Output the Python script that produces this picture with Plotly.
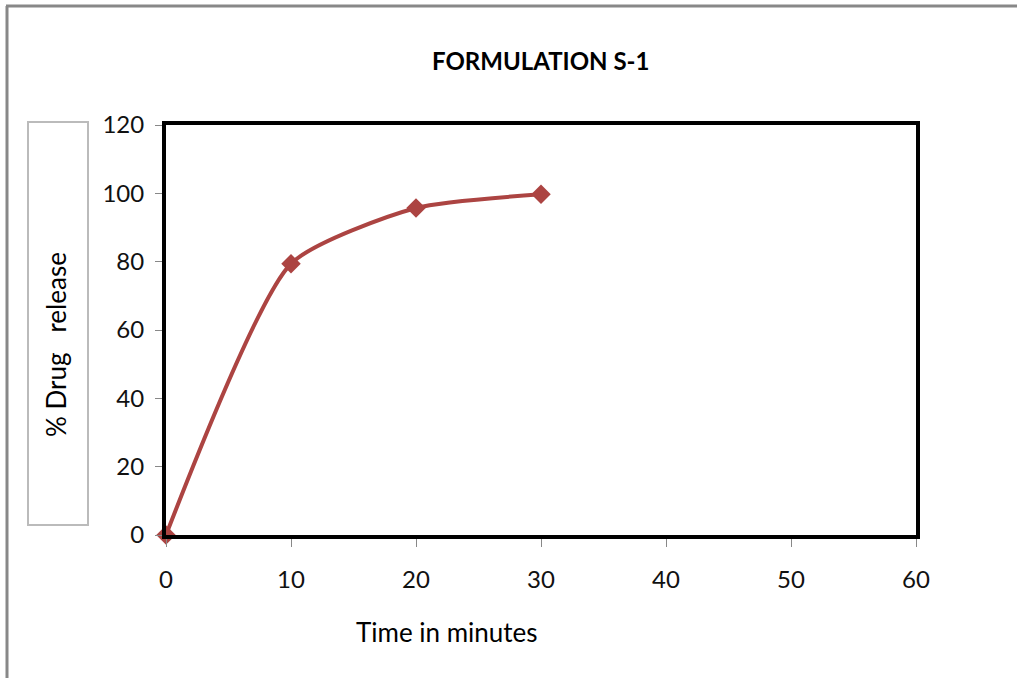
import plotly.graph_objects as go

# Dissolution data for formulation S-1
time_min = [0, 10, 20, 30]
drug_release = [0, 79.4, 95.7, 99.7]
x_ticks = [0, 10, 20, 30, 40, 50, 60]
y_ticks = [0, 20, 40, 60, 80, 100, 120]

W, H = 1017, 678
L, R, T, B = 166, 916, 125, 535  # plot area in pixels


def px_x(p):
    return (p - L) / (R - L)


def px_y(p):
    return (B - p) / (B - T)


font_family = "Lato, Open Sans, sans-serif"

fig = go.Figure()
fig.add_trace(go.Scatter(
    x=time_min, y=drug_release,
    mode="lines+markers",
    line=dict(color="#AC4442", width=4, shape="spline", smoothing=0.6),
    marker=dict(symbol="diamond", size=15, color="#AC4442"),
    cliponaxis=False,
    showlegend=False,
))

fig.update_layout(
    width=W, height=H,
    margin=dict(l=L, r=W - R, t=T, b=H - B),
    paper_bgcolor="white",
    plot_bgcolor="white",
    font=dict(family=font_family, size=24, color="#111"),
    xaxis=dict(
        range=[0, 60], tickvals=x_ticks, showgrid=False, zeroline=False,
        ticks="outside", ticklen=8, tickcolor="#888", tickwidth=1,
        ticklabelstandoff=12,
        showline=True, linecolor="black", linewidth=4, mirror=True,
    ),
    yaxis=dict(
        range=[0, 120], tickvals=y_ticks, showgrid=False, zeroline=False,
        ticks="outside", ticklen=7, tickcolor="#888", tickwidth=1,
        ticklabelstandoff=6,
        showline=True, linecolor="black", linewidth=4, mirror=True,
    ),
    shapes=[
        # outer chart frame: left and top edges
        dict(type="line", xref="paper", yref="paper",
             x0=px_x(7), x1=px_x(7), y0=px_y(6), y1=px_y(690),
             line=dict(color="#888888", width=3), layer="below"),
        dict(type="line", xref="paper", yref="paper",
             x0=px_x(6), x1=px_x(1030), y0=px_y(6), y1=px_y(6),
             line=dict(color="#888888", width=3), layer="below"),
        # box around the vertical axis title
        dict(type="rect", xref="paper", yref="paper",
             x0=px_x(28), x1=px_x(88), y0=px_y(525), y1=px_y(122),
             line=dict(color="#BBBBBB", width=2)),
    ],
    annotations=[
        dict(text="<b>FORMULATION S-1</b>", xref="paper", yref="paper",
             x=px_x(540), y=px_y(60), xanchor="center", yanchor="middle",
             showarrow=False, font=dict(size=24, color="#000")),
        dict(text="% Drug   release", xref="paper", yref="paper",
             x=px_x(56), y=px_y(345), xanchor="center", yanchor="middle",
             textangle=-90, showarrow=False,
             font=dict(size=26, color="#000")),
        dict(text="Time in minutes", xref="paper", yref="paper",
             x=px_x(447), y=px_y(632), xanchor="center", yanchor="middle",
             showarrow=False, font=dict(size=26, color="#000")),
    ],
)

fig.write_html("out.html")
